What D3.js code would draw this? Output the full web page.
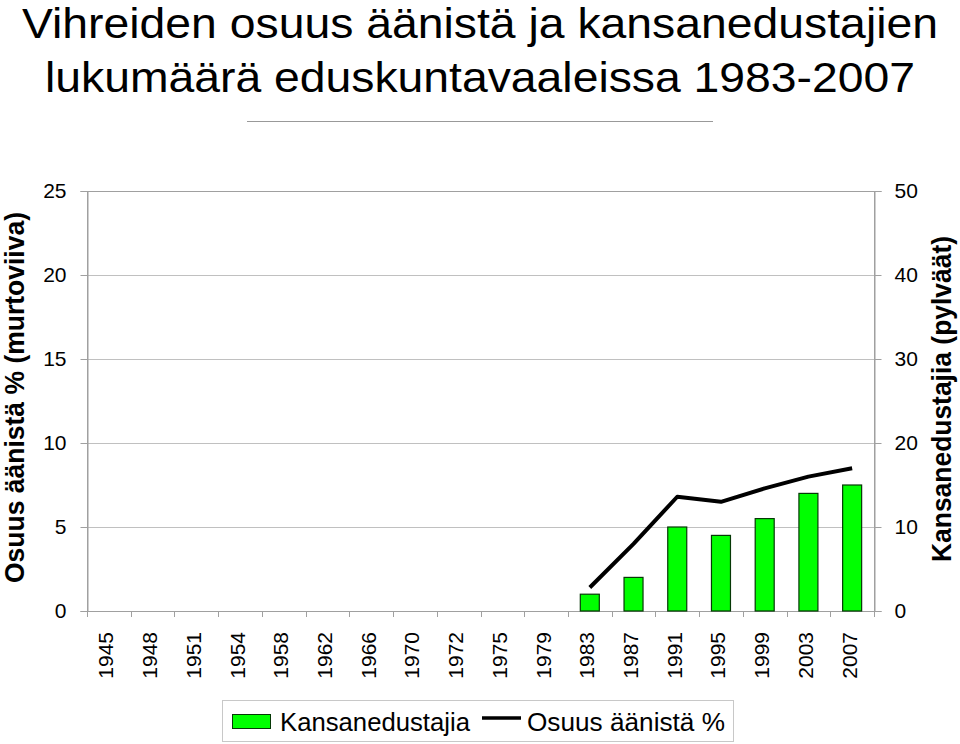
<!DOCTYPE html>
<html><head><meta charset="utf-8">
<script src="https://cdn.jsdelivr.net/npm/d3@7"></script>
<style>body{margin:0;background:#fff}svg{display:block}text{font-family:"Liberation Sans",Arial,sans-serif}</style>
</head><body>
<script>
const years = ["1945","1948","1951","1954","1958","1962","1966","1970","1972","1975","1979","1983","1987","1991","1995","1999","2003","2007"];
const seats = [null,null,null,null,null,null,null,null,null,null,null,2,4,10,9,11,14,15];
const votes = [null,null,null,null,null,null,null,null,null,null,null,1.4,4.0,6.8,6.5,7.3,8.0,8.5];
const leftTicks = [0,5,10,15,20,25];
const rightTicks = [0,10,20,30,40,50];

const W=960,H=744;
const m={l:87,r:874,t:191,b:611};
const svg=d3.select("body").append("svg").attr("width",W).attr("height",H);

const x=d3.scaleBand().domain(years).range([m.l,m.r]);
const yL=d3.scaleLinear().domain([0,25]).range([m.b,m.t]);
const yR=d3.scaleLinear().domain([0,50]).range([m.b,m.t]);

// title
svg.append("text").attr("x",480).attr("y",38).attr("text-anchor","middle").attr("font-size",43)
  .attr("textLength",916).attr("lengthAdjust","spacingAndGlyphs").text("Vihreiden osuus äänistä ja kansanedustajien");
svg.append("text").attr("x",480).attr("y",92).attr("text-anchor","middle").attr("font-size",43)
  .attr("textLength",870).attr("lengthAdjust","spacingAndGlyphs").text("lukumäärä eduskuntavaaleissa 1983-2007");
svg.append("line").attr("x1",247).attr("x2",713).attr("y1",121.5).attr("y2",121.5).attr("stroke","#999").attr("stroke-width",1);

// gridlines
svg.append("g").selectAll("line").data(leftTicks.slice(1,-1)).join("line")
  .attr("x1",m.l).attr("x2",m.r).attr("y1",d=>Math.round(yL(d))+0.5).attr("y2",d=>Math.round(yL(d))+0.5)
  .attr("stroke","#c0c0c0");
// border
svg.append("rect").attr("x",m.l+0.5).attr("y",m.t+0.5).attr("width",m.r-m.l).attr("height",m.b-m.t)
  .attr("fill","none").attr("stroke","#a0a0a0");

// left axis
const gl=svg.append("g").attr("transform",`translate(${m.l+0.5},0)`)
  .call(d3.axisLeft(yL).tickValues(leftTicks).tickSize(7).tickPadding(14));
// right axis
const gr=svg.append("g").attr("transform",`translate(${m.r+0.5},0)`)
  .call(d3.axisRight(yR).tickValues(rightTicks).tickSize(7).tickPadding(13));
[gl,gr].forEach(g=>{g.select(".domain").attr("stroke","#a0a0a0");g.selectAll(".tick line").attr("stroke","#a0a0a0");
  g.selectAll("text").attr("font-size",21).attr("font-family","Liberation Sans, Arial, sans-serif").attr("fill","#000");});

// x axis ticks at boundaries
const bounds=years.map(d=>x(d)).concat([m.r]);
svg.append("g").selectAll("line").data(bounds).join("line")
  .attr("x1",d=>Math.round(d)+0.5).attr("x2",d=>Math.round(d)+0.5).attr("y1",m.b).attr("y2",m.b+6).attr("stroke","#a0a0a0");
svg.append("g").selectAll("text").data(years).join("text")
  .attr("transform",d=>`translate(${x(d)+x.bandwidth()/2+4.5},632) rotate(-90)`)
  .attr("text-anchor","end").attr("font-size",21).text(d=>d);

// bars
const bw=19;
svg.append("g").selectAll("rect").data(years.map((y,i)=>({y,v:seats[i]})).filter(d=>d.v!=null)).join("rect")
  .attr("x",d=>x(d.y)+x.bandwidth()/2-bw/2).attr("width",bw)
  .attr("y",d=>yR(d.v)).attr("height",d=>yR(0)-yR(d.v))
  .attr("fill","#00ff00").attr("stroke","#063806").attr("stroke-width",1.2);

// line
const lineData=years.map((y,i)=>({y,v:votes[i]})).filter(d=>d.v!=null);
svg.append("path").datum(lineData)
  .attr("d",d3.line().x(d=>x(d.y)+x.bandwidth()/2).y(d=>yL(d.v)))
  .attr("fill","none").attr("stroke","#000").attr("stroke-width",4).attr("stroke-linejoin","round");

// axis titles
svg.append("text").attr("transform","translate(24,397.5) rotate(-90)").attr("text-anchor","middle")
  .attr("font-size",28).attr("font-weight","bold").attr("textLength",371).attr("lengthAdjust","spacingAndGlyphs")
  .text("Osuus äänistä % (murtoviiva)");
svg.append("text").attr("transform","translate(951,399) rotate(-90)").attr("text-anchor","middle")
  .attr("font-size",27).attr("font-weight","bold").attr("textLength",326).attr("lengthAdjust","spacingAndGlyphs")
  .text("Kansanedustajia (pylväät)");

// legend
const lg=svg.append("g");
lg.append("rect").attr("x",222.5).attr("y",700.5).attr("width",511).attr("height",41).attr("fill","#fff").attr("stroke","#c8c8c8");
lg.append("rect").attr("x",232.5).attr("y",714.5).attr("width",38).attr("height",14).attr("fill","#00ff00").attr("stroke","#063806");
lg.append("text").attr("x",280).attr("y",731).attr("font-size",26).attr("textLength",190).attr("lengthAdjust","spacingAndGlyphs").text("Kansanedustajia");
lg.append("line").attr("x1",482).attr("x2",521).attr("y1",718).attr("y2",718).attr("stroke","#000").attr("stroke-width",3.5);
lg.append("text").attr("x",527).attr("y",731).attr("font-size",26).attr("textLength",198).attr("lengthAdjust","spacingAndGlyphs").text("Osuus äänistä %");
</script>
</body></html>
